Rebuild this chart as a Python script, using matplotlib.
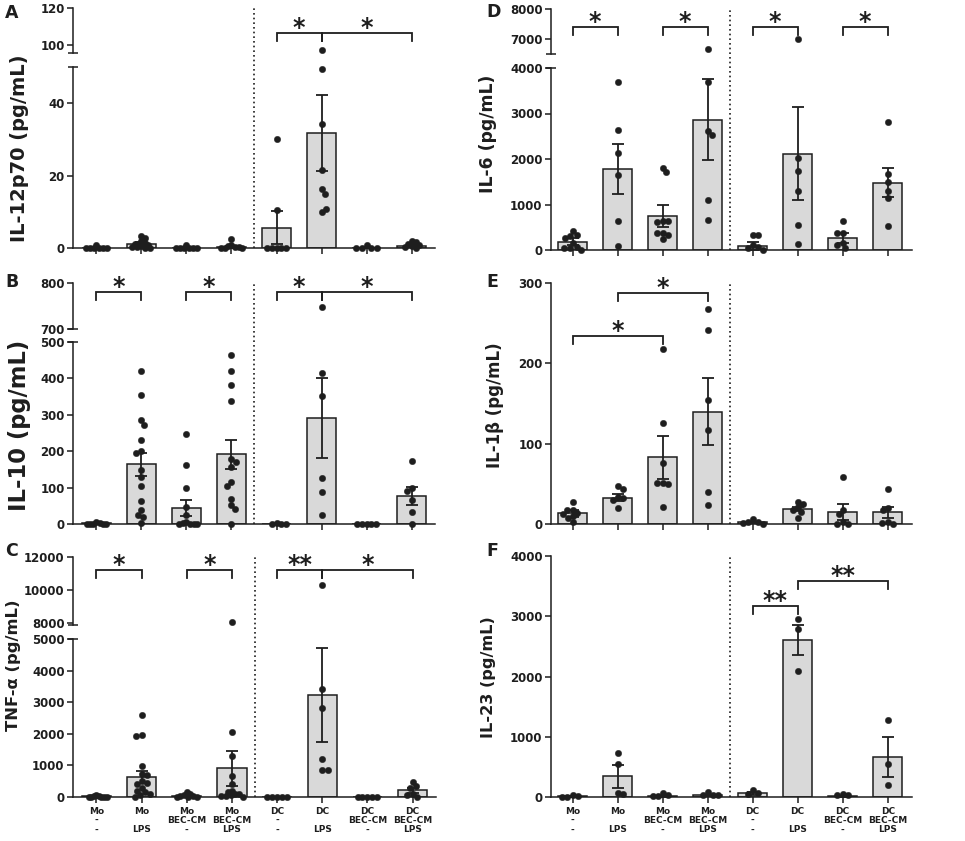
import numpy as np
import matplotlib
matplotlib.use('Agg')
import matplotlib.pyplot as plt
from matplotlib import transforms as mtrans
from matplotlib.lines import Line2D

# ---------------- data ----------------
cells = ['Mo', 'Mo', 'Mo', 'Mo', 'DC', 'DC', 'DC', 'DC']
cond = ['-', ' ', 'BEC-CM', 'BEC-CM', '-', ' ', 'BEC-CM', 'BEC-CM']
lps = ['-', 'LPS', '-', 'LPS', '-', 'LPS', '-', 'LPS']

# A: IL-12p70
means_A = [0.1, 1.2, 0.1, 0.3, 5.6, 31.8, 0.1, 0.6]
sems_A = [0.06, 0.35, 0.06, 0.2, 4.5, 10.5, 0.1, 0.2]
pts_A = [
    [0.8, 0, 0, 0, 0, 0, 0],
    [3.3, 2.8, 1.8, 1.5, 1.2, 1.0, 0.8, 0.5, 0.3, 0.2, 0, 0],
    [0.8, 0, 0, 0, 0, 0, 0],
    [2.4, 0.8, 0.6, 0.4, 0.3, 0, 0, 0],
    [30, 10.5, 0, 0, 0, 0, 0],
    [97.3, 49.5, 34.3, 21.6, 16.3, 15, 9.9, 10.9],
    [0.8, 0, 0, 0, 0],
    [1.8, 1.7, 1.2, 0.8, 0.5, 0.3, 0],
]
sig_A = [(4, 5, '*'), (5, 7, '*')]

# B: IL-10
means_B = [2, 164, 43, 191, 0.5, 292, 0.5, 76]
sems_B = [0.8, 32, 22, 41, 0.3, 110, 0.3, 25]
pts_B = [
    [5, 2, 1, 0, 0, 0, 0],
    [420, 354, 285, 271, 230, 200, 196, 148, 130, 105, 63, 38, 26, 20, 2],
    [247, 162, 98, 46, 25, 5, 2, 0, 0, 0, 0],
    [465, 420, 381, 338, 179, 169, 157, 115, 105, 70, 52, 40, 0],
    [2, 0, 0, 0],
    [747, 415, 352, 127, 89, 26],
    [1, 0, 0, 0, 0],
    [173, 98, 91, 66, 32, 0],
]
sig_B = [(0, 1, '*'), (2, 3, '*'), (4, 5, '*'), (5, 7, '*')]

# C: TNF-alpha
means_C = [20, 630, 30, 905, 5, 3225, 5, 210]
sems_C = [8, 200, 12, 545, 3, 1490, 3, 90]
pts_C = [
    [50, 30, 20, 10, 0, 0, 0, 0],
    [2594, 1950, 1940, 966, 735, 700, 500, 441, 400, 300, 200, 150, 100, 50, 0],
    [150, 100, 60, 40, 20, 0, 0, 0],
    [8040, 2058, 1302, 672, 400, 200, 150, 100, 80, 50, 30, 20, 0],
    [5, 0, 0, 0, 0],
    [10300, 3402, 2825, 1218, 840, 840],
    [5, 0, 0, 0, 0],
    [462, 336, 300, 100, 50, 0],
]
sig_C = [(0, 1, '*'), (2, 3, '*'), (4, 5, '**'), (5, 7, '*')]

# D: IL-6
means_D = [183, 1784, 749, 2863, 95, 2114, 257, 1483]
sems_D = [80, 555, 234, 885, 88, 1020, 110, 320]
pts_D = [
    [418, 330, 310, 270, 150, 70, 40, 40, 0],
    [3692, 2642, 2128, 1651, 638, 88],
    [1806, 1710, 640, 640, 610, 380, 380, 320, 235],
    [6681, 3692, 2606, 2532, 1101, 661],
    [330, 320, 100, 60, 50, 0],
    [7000, 2011, 1747, 1299, 550, 125],
    [646, 382, 367, 147, 110, 37],
    [2811, 1673, 1505, 1306, 1138, 528],
]
sig_D = [(0, 1, '*'), (2, 3, '*'), (4, 5, '*'), (6, 7, '*')]

# E: IL-1beta
means_E = [13.3, 32.8, 83, 140, 2, 18.7, 14.5, 14.5]
sems_E = [4, 4.6, 27, 42, 1, 2.5, 10, 7]
pts_E = [
    [27, 18, 17, 14, 12, 10, 7, 2],
    [47, 44, 34, 32, 30, 20],
    [218, 126, 76, 51, 51, 50, 21],
    [268, 242, 154, 117, 40, 24],
    [6, 3, 2, 1, 0],
    [28, 24.5, 21, 18, 15, 8],
    [58, 18, 13, 2, 0, 0],
    [44, 20, 17, 3, 1, 0],
]
sig_E = [(0, 2, '*'), (1, 3, '*')]

# F: IL-23
means_F = [10, 343, 15, 25, 66, 2604, 15, 665]
sems_F = [8, 190, 8, 8, 25, 255, 8, 325]
pts_F = [
    [40, 15, 5, 0],
    [731, 554, 72, 44],
    [66, 39, 11, 11],
    [83, 39, 39, 28],
    [111, 72, 55],
    [2953, 2787, 2094],
    [44, 28, 28],
    [1274, 554, 194],
]
sig_F = [(4, 5, '**'), (5, 7, '**')]

# ---------------- style / layout ----------------
plt.rcParams['font.family'] = ['DejaVu Sans']
plt.rcParams['font.weight'] = 'bold'
W, H = 965, 841
fig = plt.figure(figsize=(W / 100, H / 100), dpi=100)

INK = '#1e1e1e'
BAR = '#d9d9d9'
LW = 1.1
TICK_FS = 8.5

panels = [
    dict(letter='A', ylabel='IL-12p70 (pg/mL)', means=means_A, sems=sems_A, pts=pts_A, sig=sig_A,
         x=(73, 435), xlim=(-0.52, 7.52),
         lo=(67, 248, (0, 50), [0, 20, 40]), up=(8, 53, (95.7, 120), [100, 120]),
         sig_lv=[106.5, 106.5], lab=(20, 148, 14), let=(5, 13), xlab=False),
    dict(letter='B', ylabel='IL-10 (pg/mL)', means=means_B, sems=sems_B, pts=pts_B, sig=sig_B,
         x=(73, 435), xlim=(-0.52, 7.52),
         lo=(342, 524, (0, 500), [0, 100, 200, 300, 400, 500]), up=(283, 329, (700, 800), [700, 800]),
         sig_lv=[780, 780, 780, 780], lab=(20, 425, 16.3), let=(5, 282), xlab=False),
    dict(letter='C', ylabel='TNF-α (pg/mL)', means=means_C, sems=sems_C, pts=pts_C, sig=sig_C,
         x=(73, 436), xlim=(-0.52, 7.52),
         lo=(639, 797, (0, 5000), [0, 1000, 2000, 3000, 4000, 5000]),
         up=(557, 625, (7880, 12000), [8000, 10000, 12000]),
         sig_lv=[11210, 11210, 11210, 11210], lab=(14, 665, 11.8), let=(5, 551), xlab=True),
    dict(letter='D', ylabel='IL-6 (pg/mL)', means=means_D, sems=sems_D, pts=pts_D, sig=sig_D,
         x=(551, 912), xlim=(-0.48, 7.54),
         lo=(68, 250, (0, 4000), [0, 1000, 2000, 3000, 4000]), up=(9, 54, (6500, 8000), [7000, 8000]),
         sig_lv=[7400, 7400, 7400, 7400], lab=(488, 134, 12.4), let=(486, 12), xlab=False),
    dict(letter='E', ylabel='IL-1β (pg/mL)', means=means_E, sems=sems_E, pts=pts_E, sig=sig_E,
         x=(551, 912), xlim=(-0.48, 7.54),
         lo=(283, 524, (0, 300), [0, 100, 200, 300]), up=None,
         sig_lv=[234, 287.5], lab=(495, 405, 12), let=(486, 282), xlab=False),
    dict(letter='F', ylabel='IL-23 (pg/mL)', means=means_F, sems=sems_F, pts=pts_F, sig=sig_F,
         x=(551, 912), xlim=(-0.48, 7.54),
         lo=(556, 797, (0, 4000), [0, 1000, 2000, 3000, 4000]), up=None,
         sig_lv=[3170, 3585], lab=(488, 677, 11.6), let=(486, 551), xlab=True),
]


def px_axes(x0, x1, ytop, ybot):
    return fig.add_axes([x0 / W, 1 - ybot / H, (x1 - x0) / W, (ybot - ytop) / H])


def style_y(ax, ylim, ticks):
    ax.set_ylim(*ylim)
    ax.set_yticks(ticks)
    ax.set_yticklabels([f'{t:g}' for t in ticks])
    for s in ('top', 'right'):
        ax.spines[s].set_visible(False)
    for s in ('left', 'bottom'):
        ax.spines[s].set_linewidth(LW)
        ax.spines[s].set_color(INK)
    ax.tick_params(axis='y', which='major', direction='out', length=4, width=LW, color=INK,
                   labelsize=TICK_FS, pad=2, labelcolor=INK)
    ax.tick_params(axis='y', which='minor', direction='inout', length=7, width=LW, color=INK)
    ax.yaxis.remove_overlapping_locs = False
    ax.patch.set_alpha(0)


def swarm_once(ys, d):
    placed, xs = [], []
    for k, y in enumerate(ys):
        cands = [0.0]
        for (px, py) in placed:
            dy = y - py
            if abs(dy) < d:
                dx = np.sqrt(d * d - dy * dy)
                cands += [px + dx, px - dx]
        sgn = 1 if k % 2 else -1
        cands.sort(key=lambda c: (round(abs(c), 4), -sgn * c))
        for c in cands:
            if all((c - px) ** 2 + (y - py) ** 2 >= d * d - 1e-6 for px, py in placed):
                break
        placed.append((c, y))
        xs.append(c)
    return xs


def swarm(ys, d=5.6, maxw=11.0):
    xs = swarm_once(ys, d)
    while max(abs(v) for v in xs) > maxw and d > 2:
        d *= 0.88
        xs = swarm_once(ys, d)
    return xs


for P in panels:
    x0, x1 = P['x']
    lt, lb, lylim, lticks = P['lo']
    ax_lo = px_axes(x0, x1, lt, lb)
    ax_lo.set_xlim(*P['xlim'])
    style_y(ax_lo, lylim, lticks)
    if P['up'] is not None:
        ax_lo.set_yticks([lylim[1]], minor=True)
    else:
        ax_lo.set_yticks([], minor=True)
    xs = np.arange(len(cells))
    ax_lo.set_xticks(xs)
    ax_lo.tick_params(axis='x', direction='out', length=4, width=LW, color=INK,
                      labelsize=6.5, pad=3, labelcolor=INK)
    if P['xlab']:
        ax_lo.set_xticklabels(['\n'.join(t) for t in zip(cells, cond, lps)], linespacing=1.05)
    else:
        ax_lo.set_xticklabels([])

    ax_up = None
    if P['up'] is not None:
        ut, ub, uylim, uticks = P['up']
        ax_up = px_axes(x0, x1, ut, ub)
        ax_up.set_xlim(*P['xlim'])
        style_y(ax_up, uylim, uticks)
        ax_up.set_yticks([uylim[0]], minor=True)
        ax_up.spines['bottom'].set_visible(False)
        ax_up.set_xticks([])

    # bars
    ax_lo.bar(xs, P['means'], width=0.65, color=BAR, edgecolor=INK, linewidth=LW, zorder=2)

    # points (beeswarm in pixel space)
    ppx = ax_lo.transData.transform((1, 0))[0] - ax_lo.transData.transform((0, 0))[0]
    for i, vals in enumerate(P['pts']):
        ypx = []
        for v in vals:
            a = ax_up if (ax_up is not None and v > lylim[1]) else ax_lo
            ypx.append(a.transData.transform((0, v))[1])
        offs = swarm(ypx)
        for v, o in zip(vals, offs):
            a = ax_up if (ax_up is not None and v > lylim[1]) else ax_lo
            a.plot(i + o / ppx, v, 'o', ms=4.6, color=INK, mec=INK, mew=0.3,
                   zorder=4, clip_on=False)

    # error bars (SEM)
    ax_lo.errorbar(xs, P['means'], yerr=P['sems'], fmt='none', ecolor=INK,
                   elinewidth=1.3, capsize=4.5, capthick=1.3, zorder=5)

    # significance brackets
    sax = ax_up if ax_up is not None else ax_lo
    hpx = sax.transData.transform((0, 1))[1] - sax.transData.transform((0, 0))[1]
    leg = 7.5 / hpx
    for (a, b, s), lv in zip(P['sig'], P['sig_lv']):
        sax.plot([a, a, b, b], [lv - leg, lv, lv, lv - leg], color=INK, lw=1.3,
                 solid_joinstyle='miter', clip_on=False, zorder=6)
        sax.annotate(s, xy=((a + b) / 2, lv), xytext=(0, -5), textcoords='offset points',
                     ha='center', va='bottom', fontsize=17, fontweight='bold', color=INK,
                     annotation_clip=False)

    # dotted separator between Mo and DC groups
    top = P['up'][0] if P['up'] is not None else lt
    tr = mtrans.blended_transform_factory(ax_lo.transData, fig.transFigure)
    fig.add_artist(Line2D([3.5, 3.5], [1 - lb / H, 1 - top / H], transform=tr,
                          color=INK, lw=1.2, linestyle=(0, (1, 1.8))))

    # labels
    lx, ly, lfs = P['lab']
    fig.text(lx / W, 1 - ly / H, P['ylabel'], rotation=90,
             ha='center', va='center', fontsize=lfs, fontweight='bold', color=INK)
    fig.text(P['let'][0] / W, 1 - P['let'][1] / H, P['letter'], ha='left', va='center',
             fontsize=12.5, fontweight='bold', color=INK)

fig.savefig('out.png', dpi=100)
